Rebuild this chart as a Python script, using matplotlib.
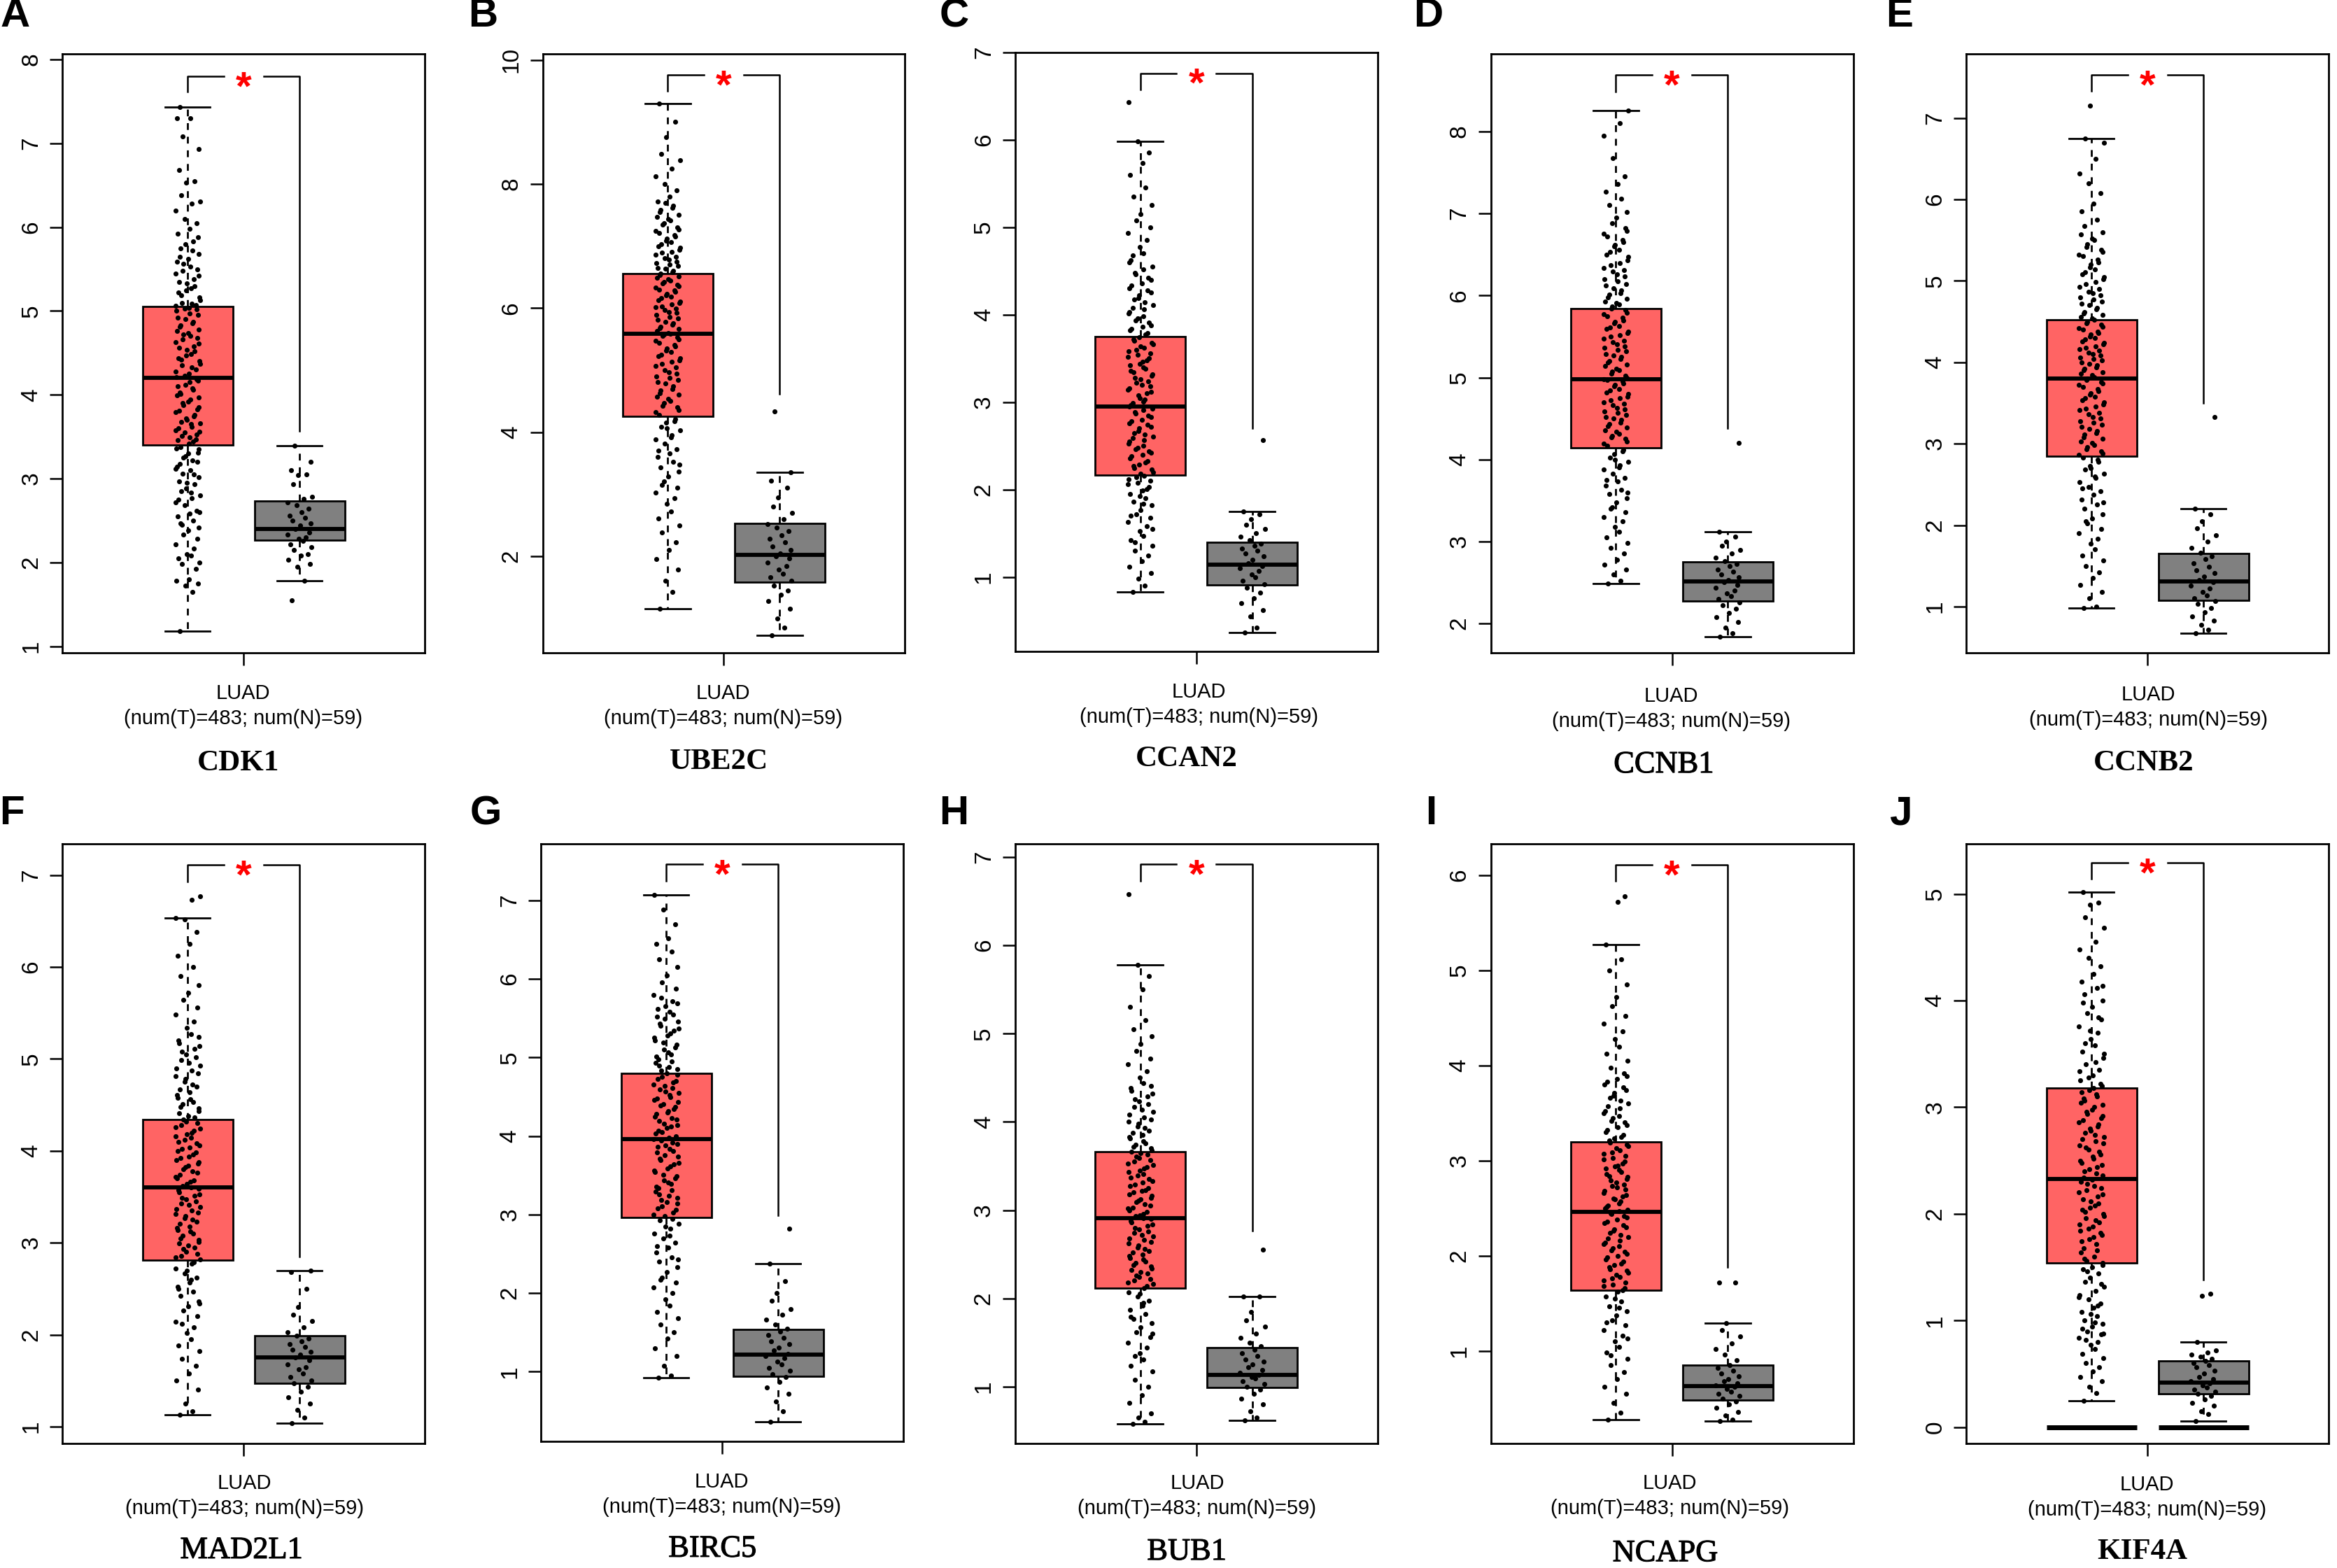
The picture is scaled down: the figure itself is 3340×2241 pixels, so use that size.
import matplotlib
matplotlib.use("Agg")
import matplotlib.pyplot as plt
import matplotlib.patheffects as pe

plt.rcParams['font.family'] = ['Liberation Sans', 'DejaVu Sans']

GENES = ["CDK1", "UBE2C", "CCAN2", "CCNB1", "CCNB2", "MAD2L1", "BIRC5", "BUB1", "NCAPG", "KIF4A"]
LETTERS = ["A", "B", "C", "D", "E", "F", "G", "H", "I", "J"]
CANCER = "LUAD"
COUNTS = "(num(T)=483; num(N)=59)"

# box stats
T_LO = [1.18, 1.15, 0.83, 2.49, 0.98, 1.13, 0.92, 0.58, 0.28, 0.25]
T_Q1 = [3.40, 4.25, 2.17, 4.14, 2.85, 2.81, 2.96, 2.12, 1.64, 1.54]
T_MED = [4.20, 5.58, 2.95, 4.98, 3.80, 3.60, 3.96, 2.91, 2.46, 2.33]
T_Q3 = [5.05, 6.55, 3.75, 5.84, 4.52, 4.34, 4.80, 3.66, 3.20, 3.18]
T_HI = [7.43, 9.30, 5.98, 8.26, 6.75, 6.53, 7.07, 5.78, 5.27, 5.02]
N_LO = [1.78, 0.72, 0.37, 1.84, 0.67, 1.04, 0.36, 0.62, 0.26, 0.06]
N_Q1 = [2.27, 1.58, 0.91, 2.27, 1.08, 1.47, 0.94, 0.99, 0.48, 0.31]
N_MED = [2.40, 2.02, 1.14, 2.51, 1.31, 1.75, 1.22, 1.13, 0.63, 0.42]
N_Q3 = [2.73, 2.53, 1.40, 2.75, 1.65, 1.99, 1.54, 1.44, 0.85, 0.62]
N_HI = [3.39, 3.35, 1.75, 3.12, 2.20, 2.70, 2.38, 2.02, 1.29, 0.80]

# bracket levels above the boxes
BR_TOP = [7.80, 9.76, 6.76, 8.69, 7.53, 7.11, 7.46, 6.92, 6.11, 5.29]
BR_T = [7.62, 9.50, 6.57, 8.49, 7.33, 6.93, 7.25, 6.73, 5.94, 5.14]
BR_N = [3.57, 4.62, 2.70, 4.38, 3.50, 2.85, 2.99, 2.77, 1.88, 1.38]

YLIM_LO = [0.92, 0.44, 0.15, 1.64, 0.43, 0.82, 0.11, 0.36, 0.03, -0.15]
YLIM_HI = [8.07, 10.10, 7.00, 8.95, 7.79, 7.34, 7.72, 7.15, 6.33, 5.47]
TICKS = [range(1, 9), range(2, 11, 2), range(1, 8), range(2, 9), range(1, 8),
         range(1, 8), range(1, 8), range(1, 8), range(1, 7), range(0, 6)]

# expression dots (a readable subset of them)
CDK1_T = [1.18, 1.65, 1.72, 1.75, 1.78, 1.8, 1.92, 1.98, 2.0, 2.05, 2.08, 2.1, 2.17, 2.22, 2.28, 2.33, 2.38, 2.42, 2.47, 2.5, 2.55, 2.58, 2.62, 2.68, 2.72, 2.77, 2.8, 2.85, 2.88, 2.93, 2.97, 3.02, 3.06, 3.1, 3.14, 3.18, 3.22, 3.27, 3.31, 3.36, 3.42, 3.47, 3.51, 3.56, 3.6, 3.65, 3.7, 3.74, 3.79, 3.83, 3.88, 3.92, 3.97, 4.01, 4.06, 4.1, 4.15, 4.19, 4.23, 4.28, 4.33, 4.37, 4.42, 4.47, 4.52, 4.56, 4.61, 4.66, 4.7, 4.76, 4.81, 4.85, 4.9, 4.95, 5.0, 5.04, 5.07, 5.1, 5.16, 5.22, 5.27, 5.33, 5.38, 5.45, 5.5, 5.56, 5.62, 5.68, 5.75, 5.83, 5.92, 5.98, 6.05, 6.1, 6.2, 6.28, 6.31, 6.38, 6.53, 6.55, 6.68, 6.93, 7.08, 7.3, 7.3, 7.43]
CDK1_T2 = [2.45, 2.6, 2.75, 2.83, 2.95, 3.05, 3.12, 3.2, 3.25, 3.3, 3.35, 3.38, 3.44, 3.46, 3.49, 3.53, 3.55, 3.58, 3.62, 3.66, 3.68, 3.72, 3.76, 3.81, 3.85, 3.9, 3.94, 3.99, 4.03, 4.08, 4.12, 4.17, 4.21, 4.25, 4.3, 4.35, 4.4, 4.44, 4.49, 4.54, 4.58, 4.63, 4.68, 4.72, 4.74, 4.78, 4.83, 4.87, 4.92, 4.97, 5.02, 5.03, 5.06, 5.09, 5.13, 5.19, 5.25, 5.3, 5.35, 5.42, 5.48, 5.53, 5.59, 5.65, 5.72, 5.8, 5.88]
CDK1_N = [1.55, 1.78, 1.95, 1.98, 2.03, 2.08, 2.1, 2.15, 2.18, 2.22, 2.26, 2.28, 2.3, 2.33, 2.36, 2.4, 2.44, 2.47, 2.5, 2.53, 2.56, 2.6, 2.64, 2.68, 2.72, 2.76, 2.78, 2.93, 3.04, 3.05, 3.1, 3.2, 3.39]
UBE2C_T = [1.15, 1.42, 1.6, 1.78, 1.95, 2.1, 2.22, 2.38, 2.5, 2.61, 2.72, 2.84, 2.93, 3.02, 3.1, 3.21, 3.28, 3.36, 3.43, 3.52, 3.6, 3.66, 3.73, 3.81, 3.88, 3.95, 4.03, 4.09, 4.15, 4.21, 4.28, 4.36, 4.42, 4.5, 4.57, 4.63, 4.7, 4.78, 4.84, 4.9, 4.97, 5.04, 5.1, 5.16, 5.22, 5.29, 5.35, 5.41, 5.47, 5.53, 5.57, 5.6, 5.66, 5.7, 5.76, 5.81, 5.86, 5.92, 5.97, 6.01, 6.06, 6.11, 6.16, 6.21, 6.26, 6.3, 6.35, 6.4, 6.44, 6.49, 6.53, 6.58, 6.63, 6.68, 6.72, 6.78, 6.83, 6.89, 6.94, 7.0, 7.06, 7.12, 7.18, 7.24, 7.3, 7.37, 7.44, 7.5, 7.58, 7.65, 7.72, 7.8, 7.9, 8.0, 8.12, 8.25, 8.38, 8.48, 8.75, 9.0, 9.3]
UBE2C_T2 = [3.15, 3.48, 3.7, 3.92, 4.06, 4.18, 4.32, 4.4, 4.47, 4.54, 4.6, 4.67, 4.74, 4.81, 4.87, 4.94, 5.0, 5.07, 5.13, 5.19, 5.25, 5.32, 5.38, 5.44, 5.5, 5.55, 5.59, 5.63, 5.68, 5.73, 5.78, 5.83, 5.89, 5.94, 5.99, 6.03, 6.08, 6.13, 6.18, 6.23, 6.28, 6.33, 6.37, 6.42, 6.46, 6.51, 6.56, 6.6, 6.65, 6.7, 6.75, 6.8, 6.86, 6.91, 6.97, 7.03, 7.09, 7.15, 7.21, 7.27, 7.34, 7.41, 7.47, 7.55, 7.62, 7.7]
UBE2C_N = [0.72, 0.85, 1.0, 1.15, 1.28, 1.38, 1.45, 1.52, 1.6, 1.66, 1.72, 1.78, 1.84, 1.9, 1.96, 2.0, 2.05, 2.1, 2.16, 2.22, 2.28, 2.34, 2.4, 2.46, 2.52, 2.6, 2.7, 2.8, 2.95, 3.1, 3.22, 3.35, 4.33]
CCAN2_T = [0.83, 0.9, 0.98, 1.05, 1.12, 1.18, 1.25, 1.3, 1.36, 1.42, 1.47, 1.53, 1.58, 1.63, 1.68, 1.72, 1.77, 1.82, 1.86, 1.9, 1.95, 1.99, 2.03, 2.08, 2.12, 2.16, 2.2, 2.25, 2.29, 2.33, 2.38, 2.42, 2.46, 2.5, 2.55, 2.59, 2.63, 2.67, 2.72, 2.76, 2.8, 2.85, 2.89, 2.93, 2.97, 3.01, 3.05, 3.1, 3.14, 3.18, 3.22, 3.26, 3.3, 3.34, 3.38, 3.42, 3.46, 3.5, 3.54, 3.58, 3.62, 3.66, 3.7, 3.74, 3.79, 3.84, 3.88, 3.93, 3.98, 4.03, 4.08, 4.14, 4.19, 4.25, 4.3, 4.36, 4.42, 4.48, 4.55, 4.62, 4.7, 4.77, 4.85, 4.93, 5.0, 5.08, 5.15, 5.25, 5.35, 5.45, 5.6, 5.73, 5.85, 5.98, 6.43]
CCAN2_T2 = [1.4, 1.55, 1.7, 1.84, 1.93, 2.01, 2.06, 2.1, 2.14, 2.18, 2.23, 2.27, 2.31, 2.36, 2.4, 2.44, 2.48, 2.53, 2.57, 2.61, 2.65, 2.7, 2.74, 2.78, 2.83, 2.87, 2.91, 2.95, 2.99, 3.03, 3.08, 3.12, 3.16, 3.2, 3.24, 3.28, 3.32, 3.36, 3.4, 3.44, 3.48, 3.52, 3.56, 3.6, 3.64, 3.68, 3.72, 3.77, 3.82, 3.86, 3.91, 3.96, 4.01, 4.06, 4.11, 4.17, 4.22, 4.28, 4.33, 4.4, 4.46, 4.52, 4.6, 4.68]
CCAN2_N = [0.37, 0.42, 0.55, 0.62, 0.7, 0.76, 0.82, 0.88, 0.92, 0.96, 1.0, 1.03, 1.07, 1.1, 1.13, 1.16, 1.2, 1.24, 1.27, 1.3, 1.33, 1.36, 1.38, 1.42, 1.46, 1.5, 1.55, 1.6, 1.66, 1.72, 1.75, 2.57]
CCNB1_T = [2.49, 2.52, 2.6, 2.66, 2.72, 2.78, 2.85, 2.92, 2.98, 3.05, 3.12, 3.18, 3.25, 3.3, 3.36, 3.42, 3.48, 3.53, 3.58, 3.63, 3.68, 3.73, 3.78, 3.83, 3.88, 3.93, 3.97, 4.02, 4.07, 4.12, 4.17, 4.22, 4.27, 4.31, 4.36, 4.41, 4.45, 4.5, 4.54, 4.59, 4.63, 4.68, 4.72, 4.77, 4.82, 4.86, 4.91, 4.95, 4.98, 5.02, 5.07, 5.11, 5.16, 5.2, 5.25, 5.29, 5.34, 5.38, 5.43, 5.47, 5.52, 5.56, 5.61, 5.66, 5.7, 5.75, 5.79, 5.84, 5.89, 5.93, 5.98, 6.03, 6.09, 6.14, 6.2, 6.26, 6.31, 6.37, 6.43, 6.5, 6.56, 6.62, 6.68, 6.75, 6.82, 6.88, 6.95, 7.02, 7.1, 7.18, 7.27, 7.36, 7.45, 7.68, 7.95, 8.1, 8.26]
CCNB1_T2 = [3.4, 3.6, 3.75, 3.9, 4.0, 4.1, 4.19, 4.25, 4.29, 4.34, 4.39, 4.43, 4.48, 4.52, 4.57, 4.61, 4.66, 4.7, 4.75, 4.8, 4.84, 4.89, 4.93, 4.97, 5.0, 5.05, 5.09, 5.14, 5.18, 5.23, 5.27, 5.32, 5.36, 5.41, 5.45, 5.5, 5.54, 5.59, 5.63, 5.68, 5.73, 5.77, 5.82, 5.87, 5.91, 5.96, 6.01, 6.06, 6.12, 6.17, 6.23, 6.29, 6.34, 6.4, 6.47, 6.53, 6.6, 6.65, 6.72, 6.79]
CCNB1_N = [1.84, 1.88, 1.95, 2.02, 2.08, 2.13, 2.18, 2.22, 2.26, 2.3, 2.33, 2.37, 2.4, 2.44, 2.47, 2.5, 2.53, 2.56, 2.6, 2.63, 2.66, 2.7, 2.73, 2.76, 2.8, 2.85, 2.9, 2.95, 3.0, 3.06, 3.12, 4.2]
CCNB2_T = [0.98, 1.0, 1.1, 1.18, 1.27, 1.35, 1.42, 1.5, 1.57, 1.63, 1.7, 1.77, 1.83, 1.9, 1.95, 2.02, 2.08, 2.13, 2.2, 2.25, 2.31, 2.37, 2.42, 2.47, 2.53, 2.58, 2.63, 2.68, 2.73, 2.78, 2.83, 2.88, 2.93, 2.98, 3.03, 3.08, 3.13, 3.18, 3.23, 3.28, 3.33, 3.38, 3.43, 3.48, 3.53, 3.58, 3.62, 3.67, 3.72, 3.76, 3.8, 3.84, 3.88, 3.92, 3.96, 4.0, 4.04, 4.08, 4.12, 4.16, 4.2, 4.24, 4.28, 4.32, 4.36, 4.4, 4.44, 4.48, 4.52, 4.56, 4.6, 4.65, 4.7, 4.75, 4.8, 4.85, 4.9, 4.96, 5.02, 5.08, 5.14, 5.2, 5.26, 5.32, 5.38, 5.45, 5.52, 5.6, 5.67, 5.75, 5.85, 5.95, 6.08, 6.2, 6.32, 6.5, 6.7, 6.75, 7.15]
CCNB2_T2 = [2.05, 2.28, 2.45, 2.6, 2.7, 2.8, 2.86, 2.91, 2.96, 3.01, 3.06, 3.11, 3.16, 3.21, 3.26, 3.31, 3.36, 3.41, 3.46, 3.51, 3.56, 3.6, 3.65, 3.7, 3.74, 3.78, 3.82, 3.86, 3.9, 3.94, 3.98, 4.02, 4.06, 4.1, 4.14, 4.18, 4.22, 4.26, 4.3, 4.34, 4.38, 4.42, 4.46, 4.5, 4.54, 4.58, 4.62, 4.67, 4.72, 4.77, 4.82, 4.87, 4.93, 4.99, 5.05, 5.11, 5.17, 5.23, 5.3, 5.36, 5.42, 5.5, 5.57]
CCNB2_N = [0.67, 0.72, 0.78, 0.83, 0.88, 0.93, 0.98, 1.03, 1.07, 1.1, 1.14, 1.18, 1.22, 1.26, 1.3, 1.33, 1.37, 1.41, 1.45, 1.49, 1.53, 1.58, 1.62, 1.66, 1.72, 1.8, 1.88, 1.96, 2.05, 2.13, 2.2, 3.33]
MAD2L1_T = [1.13, 1.17, 1.25, 1.4, 1.5, 1.58, 1.66, 1.74, 1.82, 1.88, 1.95, 2.02, 2.08, 2.14, 2.2, 2.26, 2.31, 2.36, 2.42, 2.47, 2.52, 2.57, 2.62, 2.67, 2.72, 2.77, 2.82, 2.86, 2.9, 2.95, 2.99, 3.03, 3.08, 3.12, 3.16, 3.21, 3.25, 3.29, 3.33, 3.37, 3.41, 3.45, 3.49, 3.53, 3.57, 3.6, 3.64, 3.68, 3.72, 3.76, 3.8, 3.84, 3.88, 3.92, 3.96, 4.0, 4.04, 4.08, 4.12, 4.16, 4.2, 4.24, 4.28, 4.32, 4.36, 4.41, 4.46, 4.51, 4.56, 4.61, 4.67, 4.72, 4.78, 4.84, 4.9, 4.96, 5.02, 5.08, 5.14, 5.2, 5.27, 5.34, 5.41, 5.48, 5.56, 5.64, 5.72, 5.8, 5.9, 6.0, 6.12, 6.25, 6.38, 6.52, 6.53, 6.73, 6.77]
MAD2L1_T2 = [2.12, 2.34, 2.5, 2.6, 2.7, 2.79, 2.84, 2.88, 2.93, 2.97, 3.01, 3.05, 3.1, 3.14, 3.18, 3.23, 3.27, 3.31, 3.35, 3.39, 3.43, 3.47, 3.51, 3.55, 3.59, 3.62, 3.66, 3.7, 3.74, 3.78, 3.82, 3.86, 3.9, 3.94, 3.98, 4.02, 4.06, 4.1, 4.14, 4.18, 4.22, 4.26, 4.3, 4.34, 4.38, 4.43, 4.48, 4.53, 4.58, 4.64, 4.7, 4.75, 4.81, 4.87, 4.93, 4.99, 5.05, 5.11, 5.17, 5.24]
MAD2L1_N = [1.04, 1.1, 1.18, 1.25, 1.32, 1.38, 1.43, 1.47, 1.5, 1.54, 1.58, 1.62, 1.65, 1.68, 1.72, 1.75, 1.78, 1.81, 1.84, 1.87, 1.9, 1.93, 1.96, 1.99, 2.03, 2.08, 2.15, 2.22, 2.3, 2.5, 2.68, 2.7]
BIRC5_T = [0.92, 0.95, 1.08, 1.2, 1.3, 1.42, 1.5, 1.6, 1.68, 1.76, 1.84, 1.92, 2.0, 2.07, 2.14, 2.2, 2.27, 2.33, 2.4, 2.46, 2.52, 2.58, 2.64, 2.7, 2.76, 2.82, 2.88, 2.93, 2.98, 3.03, 3.08, 3.14, 3.19, 3.24, 3.29, 3.34, 3.39, 3.44, 3.49, 3.54, 3.59, 3.64, 3.69, 3.74, 3.79, 3.84, 3.88, 3.92, 3.96, 4.0, 4.05, 4.1, 4.14, 4.19, 4.23, 4.28, 4.32, 4.37, 4.41, 4.46, 4.5, 4.55, 4.59, 4.64, 4.68, 4.73, 4.78, 4.83, 4.88, 4.93, 4.98, 5.04, 5.1, 5.16, 5.22, 5.28, 5.34, 5.4, 5.46, 5.52, 5.58, 5.65, 5.72, 5.8, 5.88, 5.96, 6.05, 6.15, 6.25, 6.35, 6.45, 6.52, 6.7, 6.88, 7.07]
BIRC5_T2 = [2.17, 2.43, 2.6, 2.73, 2.85, 2.95, 3.0, 3.06, 3.11, 3.16, 3.21, 3.26, 3.31, 3.36, 3.41, 3.46, 3.51, 3.56, 3.61, 3.66, 3.71, 3.76, 3.81, 3.86, 3.9, 3.94, 3.98, 4.03, 4.07, 4.12, 4.16, 4.21, 4.25, 4.3, 4.34, 4.39, 4.43, 4.48, 4.52, 4.57, 4.61, 4.66, 4.7, 4.75, 4.8, 4.85, 4.9, 4.95, 5.01, 5.07, 5.13, 5.19, 5.25, 5.31, 5.37, 5.43, 5.49, 5.55, 5.62, 5.69, 5.76]
BIRC5_N = [0.36, 0.5, 0.62, 0.72, 0.8, 0.87, 0.93, 0.97, 1.01, 1.05, 1.09, 1.13, 1.17, 1.2, 1.23, 1.27, 1.31, 1.35, 1.39, 1.43, 1.47, 1.51, 1.55, 1.6, 1.66, 1.73, 1.8, 1.9, 2.0, 2.15, 2.38, 2.82]
BUB1_T = [0.58, 0.6, 0.65, 0.7, 0.82, 0.9, 1.0, 1.08, 1.17, 1.24, 1.31, 1.38, 1.44, 1.5, 1.56, 1.62, 1.67, 1.72, 1.77, 1.82, 1.87, 1.92, 1.97, 2.02, 2.07, 2.12, 2.16, 2.2, 2.24, 2.28, 2.32, 2.36, 2.4, 2.44, 2.48, 2.52, 2.56, 2.6, 2.64, 2.68, 2.72, 2.76, 2.8, 2.84, 2.88, 2.91, 2.94, 2.98, 3.02, 3.05, 3.09, 3.12, 3.16, 3.2, 3.23, 3.27, 3.31, 3.35, 3.39, 3.43, 3.47, 3.51, 3.55, 3.59, 3.63, 3.66, 3.7, 3.74, 3.78, 3.83, 3.88, 3.93, 3.98, 4.03, 4.08, 4.14, 4.2, 4.26, 4.32, 4.38, 4.44, 4.5, 4.57, 4.65, 4.72, 4.8, 4.88, 4.97, 5.05, 5.15, 5.3, 5.5, 5.65, 5.78, 6.58]
BUB1_T2 = [1.35, 1.6, 1.79, 1.95, 2.05, 2.14, 2.18, 2.22, 2.26, 2.3, 2.34, 2.38, 2.42, 2.46, 2.5, 2.54, 2.58, 2.62, 2.66, 2.7, 2.74, 2.78, 2.82, 2.86, 2.9, 2.93, 2.96, 3.0, 3.03, 3.07, 3.11, 3.14, 3.18, 3.22, 3.25, 3.29, 3.33, 3.37, 3.41, 3.45, 3.49, 3.53, 3.57, 3.61, 3.65, 3.68, 3.72, 3.76, 3.81, 3.85, 3.9, 3.95, 4.0, 4.05, 4.11, 4.17, 4.23, 4.29, 4.35, 4.41]
BUB1_N = [0.62, 0.65, 0.72, 0.8, 0.86, 0.92, 0.97, 1.0, 1.03, 1.06, 1.09, 1.11, 1.13, 1.16, 1.19, 1.22, 1.25, 1.28, 1.31, 1.35, 1.38, 1.42, 1.46, 1.5, 1.55, 1.6, 1.68, 1.75, 1.85, 2.02, 2.02, 2.55]
NCAPG_T = [0.28, 0.35, 0.45, 0.55, 0.62, 0.7, 0.78, 0.85, 0.92, 0.98, 1.04, 1.1, 1.16, 1.22, 1.27, 1.32, 1.37, 1.42, 1.47, 1.52, 1.57, 1.62, 1.66, 1.7, 1.74, 1.78, 1.82, 1.86, 1.9, 1.94, 1.98, 2.02, 2.06, 2.1, 2.14, 2.18, 2.22, 2.26, 2.3, 2.34, 2.38, 2.42, 2.45, 2.48, 2.51, 2.55, 2.59, 2.62, 2.66, 2.7, 2.73, 2.77, 2.81, 2.84, 2.88, 2.92, 2.95, 2.99, 3.03, 3.07, 3.11, 3.15, 3.19, 3.23, 3.27, 3.32, 3.37, 3.42, 3.47, 3.52, 3.57, 3.63, 3.68, 3.74, 3.8, 3.86, 3.92, 3.98, 4.05, 4.12, 4.2, 4.28, 4.36, 4.44, 4.52, 4.62, 4.72, 4.85, 5.0, 5.12, 5.27, 5.72, 5.78]
NCAPG_T2 = [0.95, 1.13, 1.3, 1.45, 1.55, 1.64, 1.68, 1.72, 1.76, 1.8, 1.84, 1.88, 1.92, 1.96, 2.0, 2.04, 2.08, 2.12, 2.16, 2.2, 2.24, 2.28, 2.32, 2.36, 2.4, 2.44, 2.47, 2.5, 2.53, 2.57, 2.6, 2.64, 2.68, 2.72, 2.75, 2.79, 2.83, 2.86, 2.9, 2.94, 2.97, 3.01, 3.05, 3.09, 3.13, 3.17, 3.21, 3.25, 3.3, 3.35, 3.4, 3.45, 3.5, 3.55, 3.6, 3.66, 3.71, 3.77, 3.83, 3.89]
NCAPG_N = [0.26, 0.28, 0.32, 0.36, 0.4, 0.44, 0.47, 0.5, 0.53, 0.55, 0.57, 0.6, 0.62, 0.64, 0.66, 0.68, 0.7, 0.73, 0.76, 0.79, 0.82, 0.85, 0.9, 0.96, 1.02, 1.08, 1.15, 1.22, 1.29, 1.72, 1.72]
KIF4A_T = [0.25, 0.32, 0.38, 0.43, 0.47, 0.52, 0.56, 0.6, 0.65, 0.69, 0.73, 0.77, 0.8, 0.84, 0.87, 0.9, 0.94, 0.97, 1.0, 1.04, 1.08, 1.12, 1.16, 1.2, 1.24, 1.28, 1.32, 1.36, 1.4, 1.44, 1.48, 1.52, 1.56, 1.6, 1.64, 1.68, 1.72, 1.76, 1.8, 1.84, 1.88, 1.92, 1.96, 2.0, 2.04, 2.08, 2.12, 2.16, 2.2, 2.24, 2.28, 2.32, 2.36, 2.4, 2.44, 2.48, 2.52, 2.56, 2.6, 2.64, 2.68, 2.72, 2.76, 2.8, 2.84, 2.88, 2.92, 2.96, 3.0, 3.04, 3.08, 3.12, 3.16, 3.2, 3.25, 3.3, 3.35, 3.4, 3.46, 3.52, 3.58, 3.64, 3.7, 3.76, 3.82, 3.88, 3.94, 4.0, 4.06, 4.12, 4.18, 4.25, 4.32, 4.4, 4.48, 4.55, 4.68, 4.78, 4.9, 4.92, 5.02]
KIF4A_T2 = [0.82, 0.88, 0.92, 0.98, 1.06, 1.14, 1.22, 1.34, 1.46, 1.5, 1.54, 1.58, 1.66, 1.74, 1.78, 1.82, 1.86, 1.9, 1.94, 1.98, 2.02, 2.06, 2.1, 2.14, 2.18, 2.22, 2.26, 2.3, 2.34, 2.38, 2.42, 2.46, 2.5, 2.54, 2.58, 2.62, 2.66, 2.7, 2.74, 2.78, 2.82, 2.86, 2.9, 2.94, 2.98, 3.02, 3.06, 3.1, 3.14, 3.18, 3.22, 3.28, 3.34, 3.42, 3.5, 3.6, 3.72, 3.84, 3.98, 4.14]
KIF4A_N = [0.06, 0.12, 0.15, 0.2, 0.23, 0.26, 0.29, 0.31, 0.33, 0.35, 0.37, 0.39, 0.41, 0.43, 0.45, 0.47, 0.5, 0.53, 0.56, 0.58, 0.6, 0.62, 0.64, 0.66, 0.68, 0.7, 0.72, 0.8, 1.23, 1.25]
T_DOTS = [CDK1_T, UBE2C_T, CCAN2_T, CCNB1_T, CCNB2_T, MAD2L1_T, BIRC5_T, BUB1_T, NCAPG_T, KIF4A_T]
T_DOTS2 = [CDK1_T2, UBE2C_T2, CCAN2_T2, CCNB1_T2, CCNB2_T2, MAD2L1_T2, BIRC5_T2, BUB1_T2, NCAPG_T2, KIF4A_T2]
N_DOTS = [CDK1_N, UBE2C_N, CCAN2_N, CCNB1_N, CCNB2_N, MAD2L1_N, BIRC5_N, BUB1_N, NCAPG_N, KIF4A_N]

# sideways scatter of the dots, cycled over each list
JITTER = [-0.021, 0.013, -0.006, 0.029, -0.031, 0.004, 0.022, -0.015, 0.033, -0.026,
          0.009, -0.002, 0.018, -0.034, 0.027, -0.011, 0.001, 0.031, -0.019, 0.015,
          -0.028, 0.006, 0.024, -0.008, -0.033, 0.011, 0.035, -0.017, -0.004, 0.02,
          -0.024, 0.03, -0.013, 0.008, -0.03]

T_COLOR = "#ff6464"
N_COLOR = "#808080"
T_POS = 0.345
N_POS = 0.654
BOX_W = 0.249

# layout, in pixels of the picture as displayed at 1568 wide
S = 3341 / 1568
AX_X0 = [42, 364, 681, 1000, 1319, 42, 363, 681, 1000, 1319]
AX_W = 243
AX_Y0 = [36, 36, 35, 36, 36, 566, 566, 566, 566, 566]
AX_Y1 = [438, 438, 437, 438, 438, 968, 967, 968, 968, 968]
LABEL_X = [163, 485, 804, 1121, 1441, 164, 484, 803, 1120, 1440]
LUAD_Y = [465, 465, 464, 467, 466, 995, 994, 995, 995, 996]
GENE_X = [160, 482, 796, 1116, 1438, 162, 478, 796, 1117, 1437]
GENE_Y = [512, 511, 509, 513, 512, 1040, 1039, 1041, 1042, 1041]
GENE_BOLD = [True, True, True, False, True, False, False, False, False, True]
LETTER_X = [10, 324, 640, 958, 1274, 8, 326, 640, 960, 1275]
LETTER_Y = [11, 11, 11, 11, 11, 546, 546, 546, 546, 546]

W, H = 3341, 2241
fig = plt.figure(figsize=(W / 100, H / 100), dpi=100)


def fx(x):
    return x * S / W


def fy(y):
    return 1 - y * S / H


def dots(ax, values, pos, start=0):
    xs = [pos + JITTER[(i + start) % len(JITTER)] for i in range(len(values))]
    ax.scatter(xs, values, s=26, color="black", linewidths=0, zorder=5)


for i in range(10):
    ax = fig.add_axes([fx(AX_X0[i]), fy(AX_Y1[i]), AX_W * S / W, (AX_Y1[i] - AX_Y0[i]) * S / H])
    stats = [
        dict(whislo=T_LO[i], q1=T_Q1[i], med=T_MED[i], q3=T_Q3[i], whishi=T_HI[i]),
        dict(whislo=N_LO[i], q1=N_Q1[i], med=N_MED[i], q3=N_Q3[i], whishi=N_HI[i]),
    ]
    parts = ax.bxp(stats, positions=[T_POS, N_POS], widths=BOX_W, capwidths=0.125,
                   patch_artist=True, showfliers=False, manage_ticks=False,
                   boxprops=dict(linewidth=2, edgecolor="black"),
                   medianprops=dict(color="black", linewidth=4.2, solid_capstyle="butt"),
                   whiskerprops=dict(color="black", linewidth=2, linestyle=(0, (3.5, 3.5))),
                   capprops=dict(color="black", linewidth=2))
    parts['boxes'][0].set_facecolor(T_COLOR)
    parts['boxes'][1].set_facecolor(N_COLOR)
    dots(ax, T_DOTS[i], T_POS)
    dots(ax, T_DOTS2[i], T_POS, 7)
    dots(ax, N_DOTS[i], N_POS)

    # KIF4A has the flat bar at zero under both boxes
    if GENES[i] == "KIF4A":
        for pos in [T_POS, N_POS]:
            ax.hlines(0, pos - BOX_W / 2, pos + BOX_W / 2, color="black", linewidth=5)

    # significance bracket
    ax.plot([T_POS, T_POS, 0.445], [BR_T[i], BR_TOP[i], BR_TOP[i]], color="black", lw=1.8)
    ax.plot([0.555, N_POS, N_POS], [BR_TOP[i], BR_TOP[i], BR_N[i]], color="black", lw=1.8)
    ax.annotate("*", (0.5, BR_TOP[i]), xytext=(0, -24), textcoords="offset points",
                ha="center", va="baseline", color="red", fontsize=42, fontweight="bold")

    ax.set_xlim(0, 1)
    ax.set_ylim(YLIM_LO[i], YLIM_HI[i])
    ax.set_xticks([0.5])
    ax.set_xticklabels([""])
    ax.set_yticks(list(TICKS[i]))
    ax.tick_params(axis="both", length=13, width=1.8, labelsize=24, pad=8)
    for t in ax.get_yticklabels():
        t.set_rotation(90)
        t.set_va("center")
    for sp in ax.spines.values():
        sp.set_linewidth(2)

    fig.text(fx(LABEL_X[i]), fy(LUAD_Y[i]), CANCER, ha="center", va="center", fontsize=21)
    fig.text(fx(LABEL_X[i]), fy(LUAD_Y[i] + 17), COUNTS, ha="center", va="center", fontsize=21)
    gene = fig.text(fx(GENE_X[i]), fy(GENE_Y[i]), GENES[i], ha="center", va="center",
                    fontsize=31 if GENE_BOLD[i] else 32,
                    family=["Liberation Serif"], fontweight="bold" if GENE_BOLD[i] else "normal")
    if not GENE_BOLD[i]:
        gene.set_path_effects([pe.withStroke(linewidth=0.8, foreground="black")])
    fig.text(fx(LETTER_X[i]), fy(LETTER_Y[i]), LETTERS[i], ha="center", va="center",
             fontsize=42, fontweight="bold")

fig.savefig("out.png", dpi=100)
